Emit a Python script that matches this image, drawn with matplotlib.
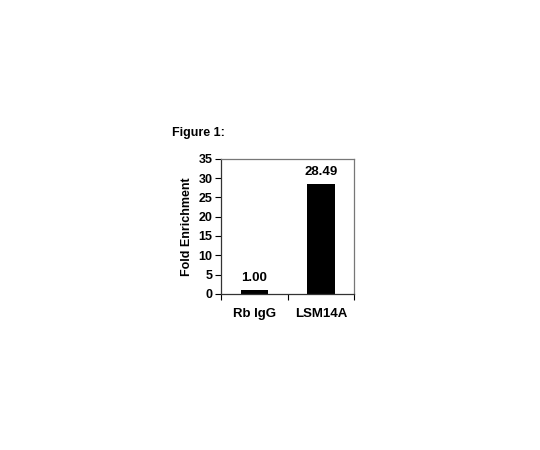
import matplotlib
matplotlib.use("Agg")
import matplotlib.pyplot as plt
from matplotlib.ticker import FixedLocator

plt.rcParams['font.family'] = ['Liberation Sans', 'DejaVu Sans']
plt.rcParams['font.weight'] = 'bold'

categories = ['Rb IgG', 'LSM14A']
values = [1.00, 28.49]
value_labels = ['1.00', '28.49']
yticks = [0, 5, 10, 15, 20, 25, 30, 35]

fig = plt.figure(figsize=(5.4, 4.5), dpi=100)
ax = fig.add_axes([0.409, 0.347, 0.247, 0.300])

x = range(len(categories))
ax.bar(x, values, width=0.41, color='black')
for xi, v, lab in zip(x, values, value_labels):
    ax.text(xi, v + 1.6, lab, ha='center', va='bottom', fontsize=9.5, fontweight='bold')

ax.set_xlim(-0.5, 1.5)
ax.set_ylim(0, 35)
ax.set_yticks(yticks)
ax.set_xticks(list(x))
ax.set_xticklabels(categories, fontsize=9.5, fontweight='bold')
ax.xaxis.set_minor_locator(FixedLocator([-0.5, 0.5, 1.5]))
ax.tick_params(axis='x', which='major', length=0, pad=10)
ax.tick_params(axis='x', which='minor', length=4, width=0.8, direction='out')
ax.tick_params(axis='y', length=4, width=0.8, direction='out', labelsize=9, pad=2)
for t in ax.get_yticklabels():
    t.set_fontweight('bold')

ax.spines['left'].set_color('#333333')
ax.spines['bottom'].set_color('#333333')
ax.spines['top'].set_color('#777777')
ax.spines['right'].set_color('#777777')
for s in ax.spines.values():
    s.set_linewidth(0.9)

ax.set_ylabel('Fold Enrichment', fontsize=9, fontweight='bold', labelpad=4)
fig.text(0.318, 0.705, 'Figure 1:', fontsize=9, fontweight='bold', ha='left', va='center')

fig.savefig('out.png', dpi=100)
